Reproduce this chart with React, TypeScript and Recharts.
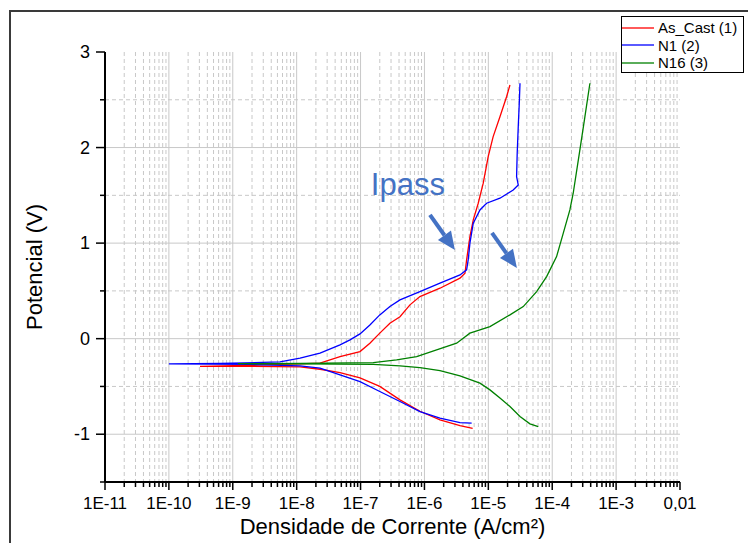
import React from 'react'
import {
  LineChart,
  Line,
  XAxis,
  YAxis,
  CartesianGrid,
  ReferenceLine,
  ReferenceDot
} from 'recharts'

const FONT = '"Liberation Sans", Arial, sans-serif'
const ANN = '#4472C4'

// [corrente (A/cm²), potencial (V)] - ramo catódico -> Ecorr -> ramo anódico
const asCast: [number, number][] = [
  [5.68e-6, -0.94], [3.6e-6, -0.91], [1.75e-6, -0.85], [8.5e-7, -0.76], [4.14e-7, -0.64],
  [2.0e-7, -0.5], [9.8e-8, -0.41], [4.77e-8, -0.355], [2.32e-8, -0.32], [1.13e-8, -0.295],
  [1.86e-9, -0.29], [3.07e-10, -0.29], [2.67e-9, -0.275], [1.13e-8, -0.264], [2.32e-8, -0.256],
  [4.77e-8, -0.187], [9.8e-8, -0.135], [1.4e-7, -0.047], [2.0e-7, 0.058], [2.88e-7, 0.162],
  [4.14e-7, 0.23], [5.93e-7, 0.354], [8.5e-7, 0.44], [1.75e-6, 0.528], [3.6e-6, 0.633],
  [4.31e-6, 0.685], [4.57e-6, 0.824], [5.15e-6, 1.068], [5.81e-6, 1.243], [6.95e-6, 1.417],
  [8.32e-6, 1.627], [9.95e-6, 1.905], [1.19e-5, 2.114], [1.52e-5, 2.323], [1.93e-5, 2.532],
  [2.18e-5, 2.655]
]

const n1: [number, number][] = [
  [5.48e-6, -0.884], [3.6e-6, -0.878], [1.75e-6, -0.832], [8.5e-7, -0.763], [4.14e-7, -0.658],
  [2.0e-7, -0.553], [9.8e-8, -0.449], [4.77e-8, -0.379], [2.32e-8, -0.309], [1.13e-8, -0.285],
  [1.86e-9, -0.27], [1.0e-10, -0.264], [6.3e-10, -0.26], [5.48e-9, -0.243], [1.13e-8, -0.204],
  [2.32e-8, -0.152], [4.77e-8, -0.065], [6.83e-8, -0.013], [9.8e-8, 0.05], [1.4e-7, 0.144],
  [2.0e-7, 0.249], [2.88e-7, 0.336], [4.14e-7, 0.406], [8.5e-7, 0.493], [1.75e-6, 0.581],
  [3.6e-6, 0.667], [4.57e-6, 0.72], [4.84e-6, 0.824], [5.15e-6, 0.999], [5.81e-6, 1.208],
  [7.39e-6, 1.347], [9.4e-6, 1.417], [1.52e-5, 1.47], [2.45e-5, 1.556], [2.94e-5, 1.609],
  [2.77e-5, 1.696], [2.83e-5, 1.94], [2.94e-5, 2.219], [3.05e-5, 2.463], [3.13e-5, 2.673]
]

const n16: [number, number][] = [
  [6.04e-5, -0.92], [4.48e-5, -0.891], [3.13e-5, -0.815], [2.18e-5, -0.71], [1.52e-5, -0.622],
  [1.06e-5, -0.536], [7.39e-6, -0.466], [3.6e-6, -0.389], [1.75e-6, -0.334], [8.5e-7, -0.302],
  [4.14e-7, -0.285], [1.58e-7, -0.27], [1.13e-8, -0.264], [1.2e-9, -0.262], [1.13e-8, -0.258],
  [1.58e-7, -0.25], [3.67e-7, -0.222], [7.55e-7, -0.187], [1.55e-6, -0.117], [3.19e-6, -0.047],
  [5.15e-6, 0.058], [1.06e-5, 0.127], [2.18e-5, 0.249], [3.52e-5, 0.336], [5.7e-5, 0.493],
  [8.17e-5, 0.65], [1.17e-4, 0.859], [1.49e-4, 1.104], [1.89e-4, 1.347], [2.13e-4, 1.522],
  [2.71e-4, 1.975], [3.25e-4, 2.323], [3.89e-4, 2.673]
]

const series = [
  { name: 'As_Cast (1)', color: '#ff0000', points: asCast },
  { name: 'N1 (2)', color: '#0000ff', points: n1 },
  { name: 'N16 (3)', color: '#008000', points: n16 }
]

const xDecades = [1e-11, 1e-10, 1e-9, 1e-8, 1e-7, 1e-6, 1e-5, 1e-4, 1e-3, 1e-2]
const minorSteps = [2, 3, 4, 5, 6, 7, 8, 9]
const xMinor = xDecades.slice(0, -1).flatMap((d) => minorSteps.map((m) => m * d))
const xTicks = [...xDecades, ...xMinor].sort((a, b) => a - b)

const yMajor = [-1, 0, 1, 2, 3]
const yMinor = [-1.5, -0.5, 0.5, 1.5, 2.5]
const yTicks = [...yMajor, ...yMinor].sort((a, b) => a - b)

// setas e texto da anotação
const arrows = [
  { from: { x: 1.22e-6, y: 1.295 }, to: { x: 3.0e-6, y: 0.929 } },
  { from: { x: 1.14e-5, y: 1.107 }, to: { x: 2.8e-5, y: 0.74 } }
]
const ipassAt = { x: 5.5e-7, y: 1.61 }

const isMajorX = (v: number) => Math.abs(Math.log10(v) - Math.round(Math.log10(v))) < 1e-6
const fmtX = (v: number) => (v >= 0.01 ? '0,01' : `1E${Math.round(Math.log10(v))}`)

const scaleOf = (axis: any) => (v: number) => {
  const s = axis?.scale
  if (typeof s === 'function') return s(v)
  if (s && typeof s.map === 'function') return s.map(v)
  return NaN
}

const XTick = (props: any) => {
  const { x, y, payload } = props
  const v = payload.value
  const major = isMajorX(v)
  return (
    <g>
      <line x1={x} x2={x} y1={y} y2={y + (major ? 8 : 5)} stroke="#000" strokeWidth={1.5} />
      {major && (
        <text x={x} y={y + 27} textAnchor="middle" fontSize={17} fill="#000">
          {fmtX(v)}
        </text>
      )}
    </g>
  )
}

const YTick = (props: any) => {
  const { x, y, payload } = props
  const v = payload.value
  const major = Number.isInteger(v)
  return (
    <g>
      <line x1={x} x2={x - (major ? 9 : 5)} y1={y} y2={y} stroke="#000" strokeWidth={1.5} />
      {major && (
        <text x={x - 15} y={y + 6} textAnchor="end" fontSize={18} fill="#000">
          {v}
        </text>
      )}
    </g>
  )
}

const Arrow = (p: any) => {
  const { x1, y1, x2, y2 } = p
  const ang = Math.atan2(y2 - y1, x2 - x1)
  const len = 18
  const half = 8
  const bx = x2 - len * Math.cos(ang)
  const by = y2 - len * Math.sin(ang)
  const nx = -Math.sin(ang)
  const ny = Math.cos(ang)
  return (
    <g>
      <line x1={x1} y1={y1} x2={bx} y2={by} stroke={ANN} strokeWidth={4} />
      <polygon
        points={`${x2},${y2} ${bx + nx * half},${by + ny * half} ${bx - nx * half},${by - ny * half}`}
        fill={ANN}
      />
    </g>
  )
}

export default function App() {
  return (
    <div
      style={{
        position: 'absolute',
        left: 0,
        top: 0,
        width: 748,
        height: 543,
        overflow: 'hidden',
        background: '#fff',
        fontFamily: FONT
      }}
    >
      <div
        style={{
          position: 'absolute',
          left: 9,
          top: 10,
          width: 780,
          height: 600,
          border: '2px solid #3a3a3a',
          boxSizing: 'border-box'
        }}
      />
      <div style={{ position: 'absolute', left: 0, top: 0 }}>
        <LineChart width={748} height={543} margin={{ top: 52, right: 68, bottom: 1, left: 20 }}>
          <CartesianGrid
            stroke="#c8c8c8"
            strokeDasharray="4 3"
            verticalCoordinatesGenerator={({ xAxis }: any) => xMinor.map(scaleOf(xAxis))}
            horizontalCoordinatesGenerator={({ yAxis }: any) =>
              yMinor.filter((v) => v > -1.5).map(scaleOf(yAxis))
            }
          />
          <CartesianGrid
            stroke="#c8c8c8"
            verticalCoordinatesGenerator={({ xAxis }: any) =>
              xDecades.filter((v) => v > 1e-11 && v < 1e-2).map(scaleOf(xAxis))
            }
            horizontalCoordinatesGenerator={({ yAxis }: any) =>
              yMajor.filter((v) => v < 3).map(scaleOf(yAxis))
            }
          />
          <XAxis
            type="number"
            dataKey="x"
            scale="log"
            domain={[1e-11, 1e-2]}
            ticks={xTicks}
            interval={0}
            allowDataOverflow
            height={60}
            tickSize={0}
            tickMargin={0}
            tickLine={false}
            axisLine={{ stroke: '#000', strokeWidth: 2 }}
            tick={(p: any) => <XTick {...p} />}
            label={{
              value: 'Densidade de Corrente (A/cm²)',
              position: 'insideBottom',
              offset: 8,
              fontSize: 22,
              fill: '#000'
            }}
          />
          <YAxis
            type="number"
            dataKey="y"
            domain={[-1.5, 3]}
            ticks={yTicks}
            interval={0}
            allowDataOverflow
            width={85}
            tickSize={0}
            tickMargin={0}
            tickLine={false}
            axisLine={{ stroke: '#000', strokeWidth: 2 }}
            tick={(p: any) => <YTick {...p} />}
            label={{
              value: 'Potencial (V)',
              angle: -90,
              position: 'insideLeft',
              offset: 14,
              fontSize: 22,
              fill: '#000',
              style: { textAnchor: 'middle' }
            }}
          />
          {series.map((s) => (
            <Line
              key={s.name}
              name={s.name}
              data={s.points.map(([x, y]) => ({ x, y }))}
              dataKey="y"
              type="linear"
              stroke={s.color}
              strokeWidth={1.3}
              dot={false}
              activeDot={false}
              isAnimationActive={false}
            />
          ))}
          {arrows.map((a, i) => (
            <ReferenceLine
              key={i}
              segment={[a.from, a.to]}
              ifOverflow="visible"
              shape={(p: any) => <Arrow {...p} />}
            />
          ))}
          <ReferenceDot
            x={ipassAt.x}
            y={ipassAt.y}
            r={0}
            ifOverflow="visible"
            shape={(p: any) => (
              <text x={p.cx} y={p.cy} textAnchor="middle" dominantBaseline="central" fontSize={31} fill={ANN}>
                Ipass
              </text>
            )}
          />
        </LineChart>
      </div>
      <div
        style={{
          position: 'absolute',
          left: 621,
          top: 16,
          width: 123,
          height: 57,
          border: '1.5px solid #000',
          boxSizing: 'border-box',
          background: '#fff',
          paddingTop: 2
        }}
      >
        {series.map((s) => (
          <div key={s.name} style={{ display: 'flex', alignItems: 'center', height: 17.5 }}>
            <svg width={32} height={4} style={{ display: 'block' }}>
              <line x1={0} x2={32} y1={2} y2={2} stroke={s.color} strokeWidth={1.3} />
            </svg>
            <span style={{ marginLeft: 4, fontSize: 15, color: '#000', lineHeight: '17px' }}>{s.name}</span>
          </div>
        ))}
      </div>
    </div>
  )
}
